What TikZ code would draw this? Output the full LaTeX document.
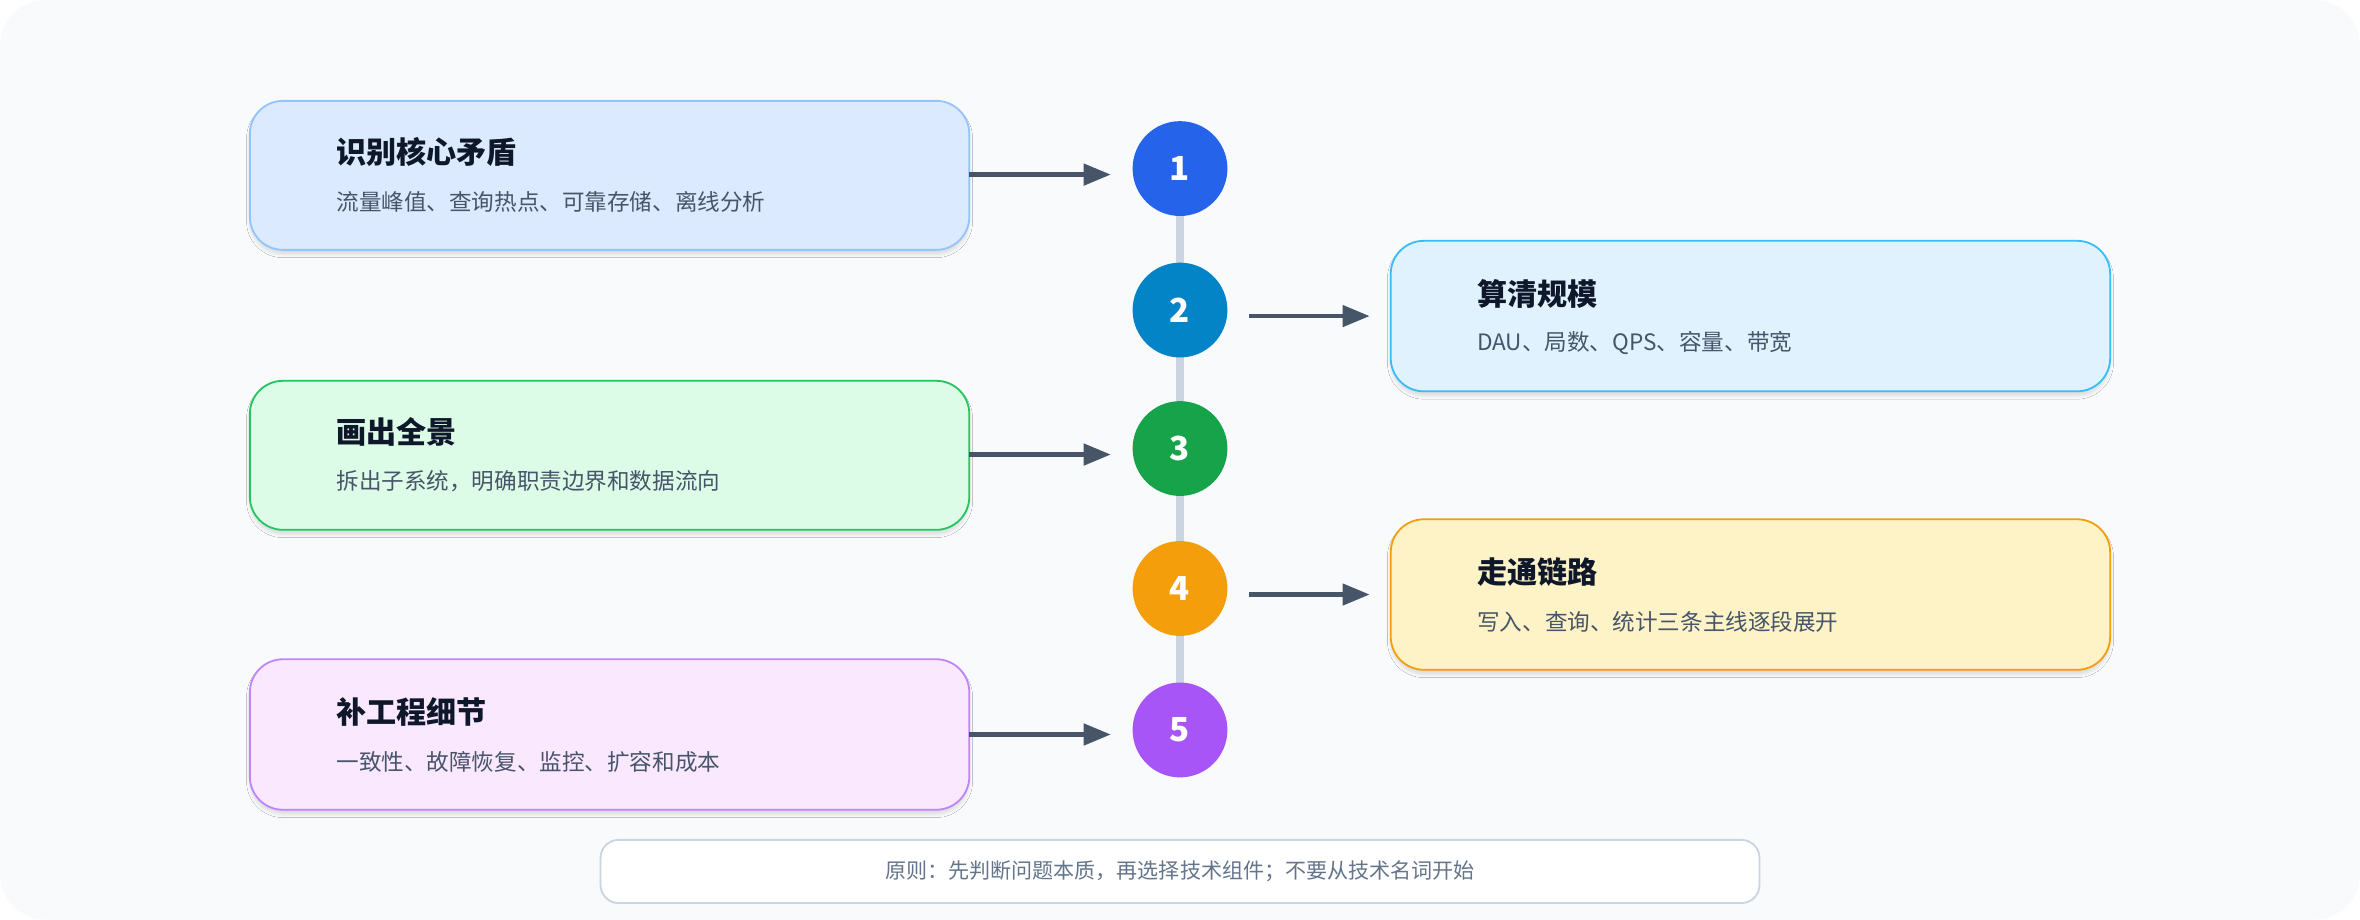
\documentclass[tikz,border=0pt]{standalone}
\usepackage{fontspec}
\setmainfont{Noto Sans CJK SC}
\usetikzlibrary{arrows.meta,shadows.blur}
\definecolor{bg}{HTML}{F8FAFC}
\definecolor{ink}{HTML}{0F172A}
\definecolor{sub}{HTML}{475569}
\definecolor{arr}{HTML}{475569}
\definecolor{rail}{HTML}{CBD5E1}
\definecolor{note}{HTML}{64748B}
\definecolor{f1}{HTML}{DBEAFE}\definecolor{d1}{HTML}{93C5FD}\definecolor{c1}{HTML}{2563EB}
\definecolor{f2}{HTML}{E0F2FE}\definecolor{d2}{HTML}{38BDF8}\definecolor{c2}{HTML}{0284C7}
\definecolor{f3}{HTML}{DCFCE7}\definecolor{d3}{HTML}{22C55E}\definecolor{c3}{HTML}{16A34A}
\definecolor{f4}{HTML}{FEF3C7}\definecolor{d4}{HTML}{F59E0B}\definecolor{c4}{HTML}{F59E0B}
\definecolor{f5}{HTML}{FAE8FF}\definecolor{d5}{HTML}{C084FC}\definecolor{c5}{HTML}{A855F7}
\begin{document}
\begin{tikzpicture}[x=1pt,y=-1pt,
 box/.style={rounded corners=22pt,line width=1.2pt,blur shadow={shadow blur steps=6,shadow xshift=0pt,shadow yshift=-3pt,shadow opacity=12}},
 ttl/.style={anchor=west,font=\fontsize{20}{24}\selectfont\bfseries,text=ink},
 sbt/.style={anchor=west,font=\fontsize{15}{18}\selectfont,text=sub},
 num/.style={circle,minimum size=63pt,inner sep=0pt,text=white,font=\fontsize{22}{26}\selectfont\bfseries},
 con/.style={-{Triangle[length=18pt,width=14pt]},line width=3pt,draw=arr}]
\useasboundingbox (0,0) rectangle (1568,611);
\fill[bg,rounded corners=30pt] (0,0) rectangle (1568,611);
\draw[rail,line width=5pt] (784,112) -- (784,485);
% left boxes
\draw[box,fill=f1,draw=d1] (166,67) rectangle (644,166);
\coordinate (b1) at (644,116);
\node[ttl] at (220,101) {识别核心矛盾};
\node[sbt] at (220,134) {流量峰值、查询热点、可靠存储、离线分析};
\draw[box,fill=f3,draw=d3] (166,253) rectangle (644,352);
\coordinate (b3) at (644,302);
\node[ttl] at (220,287) {画出全景};
\node[sbt] at (220,320) {拆出子系统，明确职责边界和数据流向};
\draw[box,fill=f5,draw=d5] (166,438) rectangle (644,538);
\coordinate (b5) at (644,488);
\node[ttl] at (220,473) {补工程细节};
\node[sbt] at (220,506) {一致性、故障恢复、监控、扩容和成本};
% right boxes
\draw[box,fill=f2,draw=d2] (924,160) rectangle (1402,260);
\coordinate (b2) at (910,210);
\node[ttl] at (978,195) {算清规模};
\node[sbt] at (978,228) {DAU、局数、QPS、容量、带宽};
\draw[box,fill=f4,draw=d4] (924,345) rectangle (1402,445);
\coordinate (b4) at (910,395);
\node[ttl] at (978,380) {走通链路};
\node[sbt] at (978,413) {写入、查询、统计三条主线逐段展开};
% circles
\node[num,fill=c1] (n1) at (784,112) {1};
\node[num,fill=c2] (n2) at (784,206) {2};
\node[num,fill=c3] (n3) at (784,298) {3};
\node[num,fill=c4] (n4) at (784,391) {4};
\node[num,fill=c5] (n5) at (784,485) {5};
% connectors
\coordinate (t1) at (738,116); \coordinate (t3) at (738,302); \coordinate (t5) at (738,488);
\coordinate (s2) at (830,210); \coordinate (s4) at (830,395);
\draw[con] (b1) -- (t1);
\draw[con] (b3) -- (t3);
\draw[con] (b5) -- (t5);
\draw[con] (s2) -- (b2);
\draw[con] (s4) -- (b4);
% note
\node[draw=rail,fill=white,line width=1.2pt,rounded corners=12pt,minimum width=770pt,minimum height=42pt,text=note,font=\fontsize{14}{17}\selectfont] (nt) at (784,579) {原则：先判断问题本质，再选择技术组件；不要从技术名词开始};
\end{tikzpicture}
\end{document}
